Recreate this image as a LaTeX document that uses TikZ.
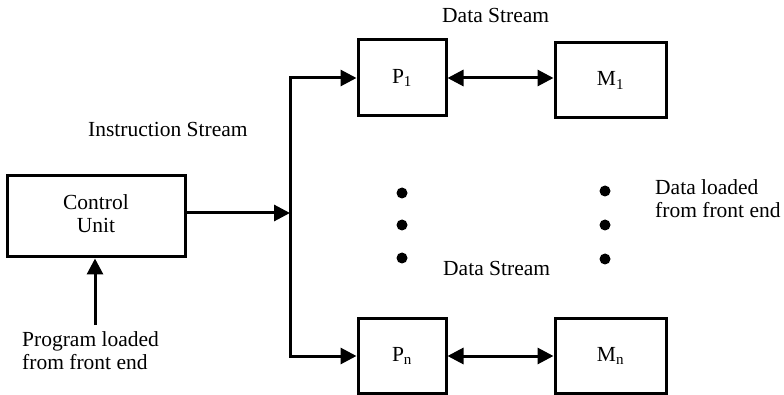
\documentclass[tikz,border=0pt]{standalone}
\usepackage{fontspec}
\setmainfont{Liberation Serif}
\usetikzlibrary{arrows.meta}
\begin{document}
\begin{tikzpicture}[x=1pt,y=-1pt,
  box/.style={draw,line width=3pt,minimum width=#1,inner sep=0pt,font=\fontsize{21.5}{23}\selectfont},
  box/.default=88pt,
  conn/.style={line width=3pt,-{Triangle[length=16pt,width=16pt]}},
  dconn/.style={line width=3pt,{Triangle[length=16pt,width=16pt]}-{Triangle[length=16pt,width=16pt]}},
  lbl/.style={inner sep=0pt,align=left,font=\fontsize{21.5}{23}\selectfont},
  dotm/.style={circle,fill,inner sep=0pt,minimum size=11pt}]
\useasboundingbox (0,0) rectangle (784,395);
\node[box=178pt,minimum height=81pt,align=center,text depth=6pt] (cu) at (96,216.5) {Control\\Unit};
\node[box,minimum height=76pt] (p1) at (402,78) {P\textsubscript{1}};
\node[box=111pt,minimum height=75pt] (m1) at (610.5,80.5) {M\textsubscript{1}};
\node[box,minimum height=75pt] (pn) at (402,356) {P\textsubscript{n}};
\node[box=111pt,minimum height=75pt] (mn) at (610.5,356) {M\textsubscript{n}};
\coordinate (j) at (290,213);
\coordinate (jt) at (290,78);
\coordinate (jb) at (290,356);
\coordinate (pl) at (95,325);
\draw[conn] (cu.east |- j) -- (j);
\draw[line width=3pt,line cap=rect] (jt) -- (jb);
\draw[conn] (jt) -- (p1.west);
\draw[conn] (jb) -- (pn.west);
\draw[dconn] (p1.east) -- (p1.east -| m1.west);
\draw[dconn] (pn.east) -- (pn.east -| mn.west);
\draw[conn] (pl) -- (pl |- cu.south);
\node[dotm] (d1) at (402,193) {};
\node[dotm] (d2) at (402,225) {};
\node[dotm] (d3) at (402,258) {};
\node[dotm] (d4) at (605,191) {};
\node[dotm] (d5) at (605,225) {};
\node[dotm] (d6) at (605,259) {};
\node[lbl,anchor=west] (ds1) at (442,15) {Data Stream};
\node[lbl,anchor=west] (is) at (88,129) {Instruction Stream};
\node[lbl,anchor=west] (ds2) at (443,268) {Data Stream};
\node[lbl,anchor=west] (dl) at (655,199) {Data loaded\\from front end};
\node[lbl,anchor=west] (pg) at (22,351) {Program loaded\\from front end};
\end{tikzpicture}
\end{document}
